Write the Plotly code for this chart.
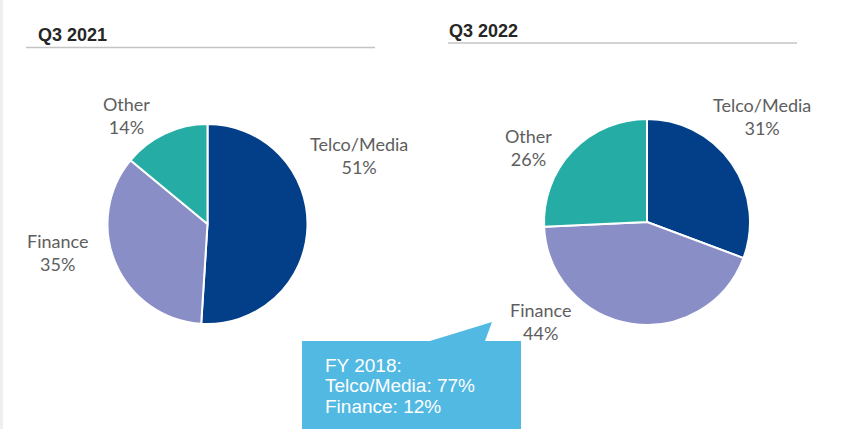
import plotly.graph_objects as go

W, H = 865, 429

categories = ["Telco/Media", "Finance", "Other"]
values_2021 = [51, 35, 14]
values_2022 = [31, 44, 26]
titles = ["Q3 2021", "Q3 2022"]
colors = ["#023F88", "#8A8EC6", "#25ADA5"]
callout_lines = ["FY 2018:", "Telco/Media: 77%", "Finance: 12%"]


def px(x):
    return x / W


def py(y):
    return 1 - y / H


def pie(values, cx, cy, r):
    return go.Pie(
        labels=categories, values=values, sort=False, direction="clockwise",
        rotation=0, textinfo="none", hoverinfo="label+percent",
        marker=dict(colors=colors, line=dict(color="white", width=2)),
        domain=dict(x=[px(cx - r), px(cx + r)], y=[py(cy + r), py(cy - r)]),
        showlegend=False,
    )


fig = go.Figure()
fig.add_trace(pie(values_2021, 207.5, 224, 100))
fig.add_trace(pie(values_2022, 647, 222, 103))

label_font = dict(family="Lato, Open Sans, sans-serif", size=18, color="#5E5E5E")
ann = []
label_pos = [
    [(359, 155), (58, 252), (126, 116)],
    [(762, 117), (540, 321), (528, 147)],
]
for vals, poss in zip([values_2021, values_2022], label_pos):
    for cat, v, (x, y) in zip(categories, vals, poss):
        ann.append(dict(x=px(x), y=py(y), xref="paper", yref="paper",
                        text=f"{cat}<br>{v}%", showarrow=False, font=label_font,
                        xanchor="center", yanchor="middle", align="center"))

title_font = dict(family="Arial, Liberation Sans, sans-serif", size=18, color="#262626")
ann.append(dict(x=px(36), y=py(35), xref="paper", yref="paper", text=f"<b>{titles[0]}</b>",
                showarrow=False, font=title_font, xanchor="left", yanchor="middle"))
ann.append(dict(x=px(447), y=py(31), xref="paper", yref="paper", text=f"<b>{titles[1]}</b>",
                showarrow=False, font=title_font, xanchor="left", yanchor="middle"))

for i, line in enumerate(callout_lines):
    ann.append(dict(x=px(323), y=py(365 + 20.5 * i), xref="paper", yref="paper",
                    text=line, showarrow=False, align="left",
                    font=dict(family="Arial, Liberation Sans, sans-serif", size=19, color="white"),
                    xanchor="left", yanchor="middle"))

shapes = [
    dict(type="rect", xref="paper", yref="paper", x0=0, x1=px(3), y0=0, y1=1,
         fillcolor="#EFEFEF", line=dict(width=0), layer="below"),
    dict(type="line", xref="paper", yref="paper", x0=px(26), x1=px(375), y0=py(47.5), y1=py(47.5),
         line=dict(color="#C4C4C4", width=1.5)),
    dict(type="line", xref="paper", yref="paper", x0=px(448), x1=px(797), y0=py(43), y1=py(43),
         line=dict(color="#C4C4C4", width=1.5)),
]
# callout polygon (pixels)
pts = [(302, 341), (430, 341), (492, 322), (485, 341), (521, 341), (521, 429), (302, 429)]
path = "M " + " L ".join(f"{px(x)},{py(y)}" for x, y in pts) + " Z"
shapes.append(dict(type="path", xref="paper", yref="paper", path=path,
                   fillcolor="#52B9E3", line=dict(width=0)))

fig.update_layout(
    width=W, height=H, margin=dict(l=0, r=0, t=0, b=0),
    paper_bgcolor="white", plot_bgcolor="white",
    annotations=ann, shapes=shapes,
)
fig.write_html("out.html", config={"displayModeBar": False},
               post_script="document.body.style.margin='0';document.body.style.overflow='hidden';")
